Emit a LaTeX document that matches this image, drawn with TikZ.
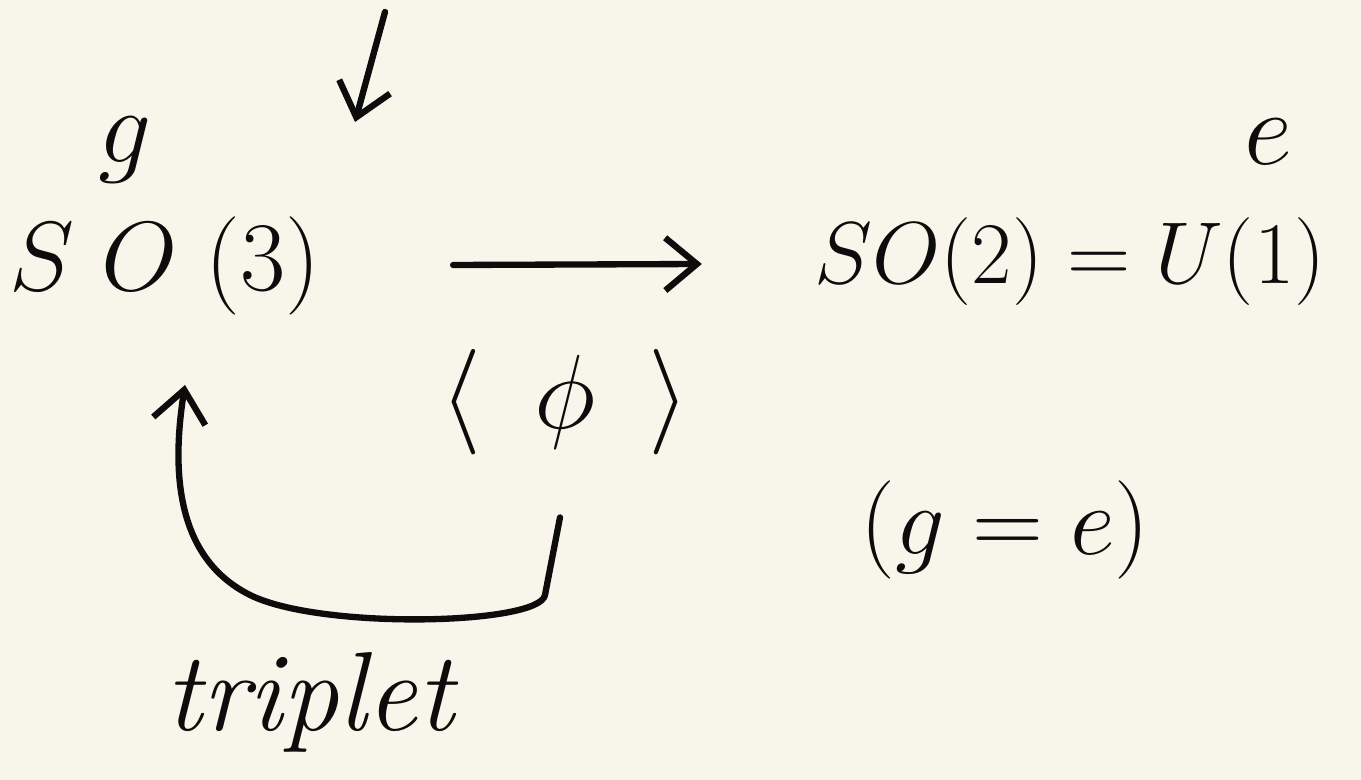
\RequirePackage{fix-cm}
\documentclass[tikz,border=0pt]{standalone}
\usepackage{amsmath}
\usetikzlibrary{arrows.meta,positioning}
\definecolor{paper}{RGB}{248,246,234}
\definecolor{ink}{RGB}{12,12,12}

\begin{document}
\begin{tikzpicture}[x=1cm,y=1cm,
  every node/.style={text=ink, inner sep=2pt},
  big/.style={font=\fontsize{28}{34}\selectfont},
  mid/.style={font=\fontsize{25}{30}\selectfont},
  arr/.style={draw=ink, line width=1.8pt, line cap=round, line join=round,
              -{Straight Barb[length=9pt,width=15pt,line width=1.8pt]}}]
  % paper, same size as the reference
  \fill[paper] (0,0) rectangle (13.61,-7.80);
  \useasboundingbox (0,0) rectangle (13.61,-7.80);

  % groups
  \node[big] (so3) at (1.65,-2.66) {$S\;O\;(3)$};
  \node[font=\fontsize{30}{34}\selectfont] (gg) at (1.25,-1.50) {$g$};
  \node[mid] (so2) at (10.70,-2.62) {$SO(2)=U(1)$};
  \node[font=\fontsize{30}{34}\selectfont] (ee) at (12.68,-1.42) {$e$};

  % vev and remarks
  \node[font=\fontsize{30}{34}\selectfont] (vev) at (5.65,-4.02)
    {$\langle\hspace{0.5em}\phi\hspace{0.5em}\rangle$};
  \node[font=\fontsize{28}{32}\selectfont] (geq) at (10.05,-5.30) {$(g=e)$};
  \node[font=\fontsize{32}{36}\selectfont] (trip) at (3.10,-7.02) {\itshape triplet};

  % top arrow
  \coordinate (topin) at (3.85,-0.12);
  \draw[arr] (topin) -- (3.55,-1.22);

  % breaking arrow
  \draw[arr] ([xshift=1.25cm,yshift=0.01cm]so3.east) -- ([xshift=-1.05cm,yshift=-0.02cm]so2.west);

  % triplet loop
  \coordinate (foot) at ([xshift=-0.05cm,yshift=-0.55cm]vev.south);
  \draw[arr] (foot) -- (5.45,-5.95)
    .. controls (5.40,-6.25) and (3.20,-6.30) .. (2.50,-5.95)
    .. controls (1.80,-5.60) and (1.70,-4.80) .. (1.85,-3.85);
\end{tikzpicture}
\end{document}
